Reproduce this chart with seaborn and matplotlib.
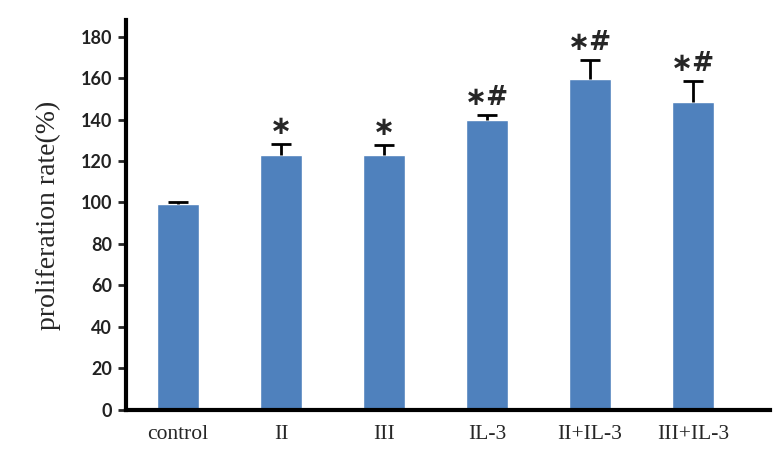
import numpy as np
import pandas as pd
import matplotlib
matplotlib.use('Agg')
import matplotlib.pyplot as plt
import seaborn as sns

groups = ['control', 'II', 'III', 'IL-3', 'II+IL-3', 'III+IL-3']
rate = [99.5, 123, 123, 140, 159.5, 148.5]
err = [0.5, 5, 4.5, 2, 9, 10]
marks = ['', '∗', '∗', '∗#', '∗#', '∗#']

df = pd.DataFrame({'group': groups, 'rate': rate})

sns.set_style('white')
fig = plt.figure(figsize=(7.78, 4.76), dpi=100)
ax = fig.add_axes([0.162, 0.139, 0.828, 0.819])

sns.barplot(data=df, x='group', y='rate', color='#4F81BD', saturation=1,
            width=0.4, ax=ax)

# upper-only error bars
x = np.arange(len(groups))
top = np.array(rate) + np.array(err)
ax.vlines(x, rate, top, color='black', lw=2, zorder=3)
ax.hlines(top, x - 0.1, x + 0.1, color='black', lw=2, zorder=3)

for i, m in enumerate(marks):
    if m:
        ax.text(i, top[i] + 2, m, ha='center', va='bottom',
                fontsize=19, family='DejaVu Sans', weight='bold')

ax.set_xlim(-0.505, 5.75)
ax.set_ylim(0, 188)
ax.set_yticks(range(0, 181, 20))
for lab in ax.get_yticklabels():
    lab.set_family('Lato')
    lab.set_fontsize(13)
    lab.set_weight('bold')
    lab.set_color('#222222')
for lab in ax.get_xticklabels():
    lab.set_family('Liberation Serif')
    lab.set_fontsize(15.5)

sns.despine(ax=ax)
for s in ['left', 'bottom']:
    ax.spines[s].set_linewidth(3)
    ax.spines[s].set_color('black')
ax.tick_params(axis='y', direction='out', length=6, width=2, left=True, pad=4)
ax.tick_params(axis='x', length=0, pad=11)
ax.set_xlabel('')
ax.set_ylabel('proliferation rate(%)', family='Liberation Serif', fontsize=20,
              labelpad=14)

fig.savefig('out.png', dpi=100)
